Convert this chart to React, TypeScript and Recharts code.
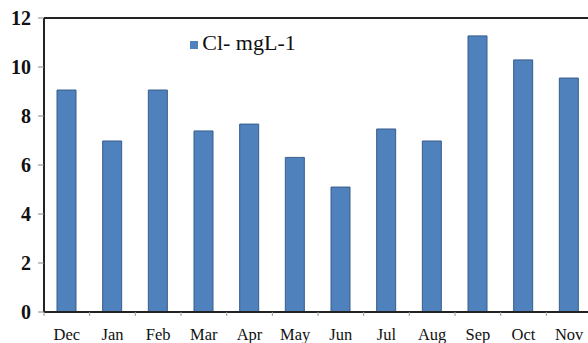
import React from 'react';
import { BarChart, Bar, XAxis, YAxis, Legend, ReferenceLine } from 'recharts';

const months = ['Dec', 'Jan', 'Feb', 'Mar', 'Apr', 'May', 'Jun', 'Jul', 'Aug', 'Sep', 'Oct', 'Nov'];
const chloride = [9.06, 6.98, 9.06, 7.39, 7.67, 6.31, 5.1, 7.47, 6.98, 11.27, 10.29, 9.55];
const yTicks = [0, 2, 4, 6, 8, 10, 12];

const data = months.map((m, i) => ({ month: m, cl: chloride[i] }));

const FONT = '"Times New Roman", Times, "Liberation Serif", "DejaVu Serif", serif';
const PLOT_LEFT = 44;
const PLOT_RIGHT = 592;
const BAND = (PLOT_RIGHT - PLOT_LEFT) / months.length;

const MonthTick = (props: any) => {
  const { x, y, payload } = props;
  const left = x - BAND / 2;
  return (
    <g>
      <line x1={left} y1={y - 8} x2={left} y2={y - 4} stroke="#999" strokeWidth={1} />
      <text x={x} y={y + 20} textAnchor="middle" fontFamily={FONT} fontSize={16.5} fill="#111">
        {payload.value}
      </text>
    </g>
  );
};

const ValueTick = (props: any) => {
  const { y, payload } = props;
  return (
    <text x={31} y={y} dy={7} textAnchor="end" fontFamily={FONT} fontSize={20} fontWeight="bold" fill="#111">
      {payload.value}
    </text>
  );
};

export default function App() {
  return (
    <div style={{ position: 'absolute', left: 0, top: 0, width: 588, height: 343, overflow: 'hidden', background: '#fff', fontFamily: FONT }}>
      <BarChart
        width={PLOT_RIGHT + 8}
        height={343}
        data={data}
        margin={{ top: 18, right: 8, left: 0, bottom: 0 }}
        barCategoryGap={0}
        style={{ fontFamily: FONT }}
      >
        <XAxis
          dataKey="month"
          height={31}
          axisLine={{ stroke: '#222', strokeWidth: 2 }}
          tickLine={false}
          tick={<MonthTick />}
          interval={0}
        />
        <YAxis
          width={44}
          domain={[0, 12]}
          ticks={yTicks}
          axisLine={{ stroke: '#222', strokeWidth: 2 }}
          tickLine={{ stroke: '#888' }}
          tickSize={6}
          tick={<ValueTick />}
        />
        <ReferenceLine y={12} stroke="#222" strokeWidth={2} />
        <Legend
          verticalAlign="middle"
          align="center"
          iconType="square"
          iconSize={8}
          wrapperStyle={{ top: 30, left: 178, width: 140, height: 26, fontFamily: FONT, fontSize: 22 }}
          formatter={(value: any) => <span style={{ color: '#111', fontFamily: FONT }}>{value}</span>}
        />
        <Bar
          dataKey="cl"
          name="Cl- mgL-1"
          fill="#4F81BD"
          stroke="#385D8A"
          strokeWidth={1}
          barSize={19}
          isAnimationActive={false}
        />
      </BarChart>
    </div>
  );
}
